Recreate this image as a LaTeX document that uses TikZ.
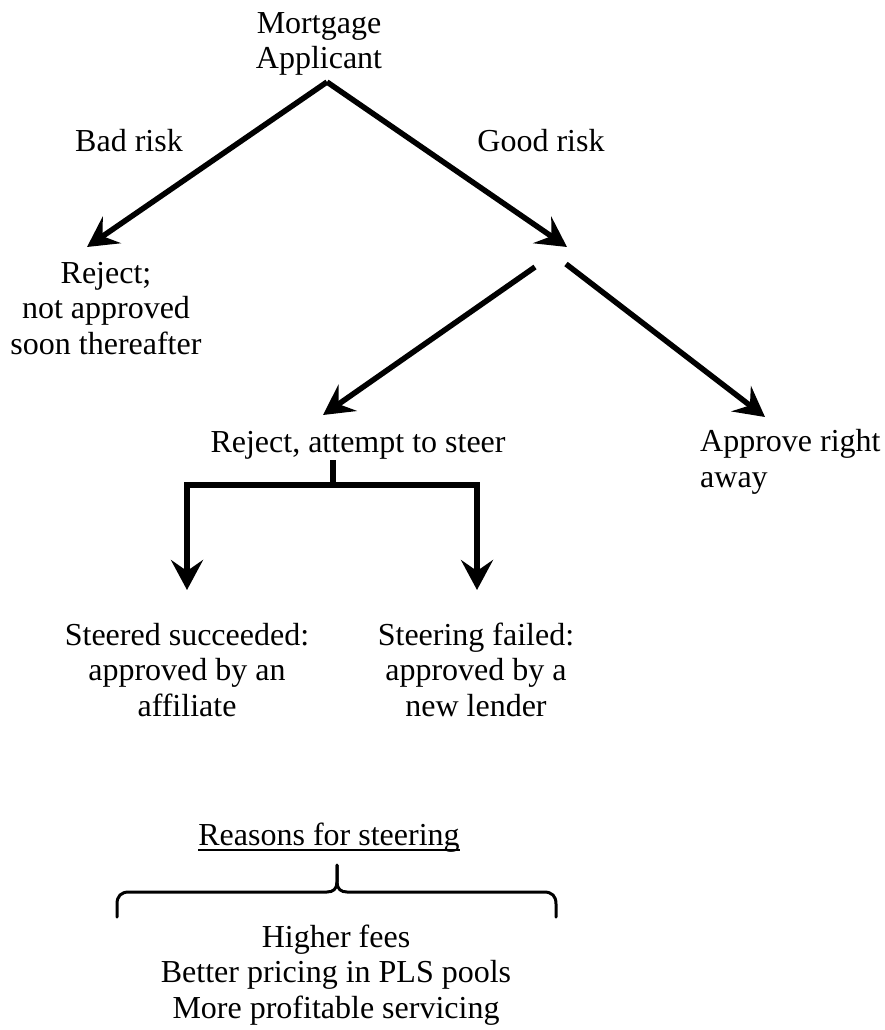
\documentclass[tikz,border=0pt]{standalone}
\usepackage{fontspec}
\setmainfont{Liberation Serif}
\usetikzlibrary{arrows.meta}
\begin{document}
\begin{tikzpicture}[x=1pt,y=-1pt,
  txt/.style={inner sep=0pt, anchor=base, align=center, font=\fontsize{32}{35.5}\selectfont},
  arr/.style={line width=5.5pt, -{Stealth[length=30pt,width=32pt,inset=11pt]}},
  ln/.style={line width=5.5pt},
  bracestyle/.style={line width=3pt, line cap=round, line join=round}]
\useasboundingbox (0,0) rectangle (885,1030);
% texts (anchor base = baseline of the last line)
\node[txt] (app) at (319,69) {Mortgage\\Applicant};
\node[txt] (bad) at (129,151) {Bad risk};
\node[txt] (good) at (541,151) {Good risk};
\node[txt] (rej) at (106,354) {Reject;\\not approved\\soon thereafter};
\node[txt] (steer) at (358,452) {Reject, attempt to steer};
\node[txt, align=left, anchor=base west] (appr) at (700,487) {Approve right\\away};
\node[txt] (succ) at (187,716) {Steered succeeded:\\approved by an\\affiliate};
\node[txt] (fail) at (476,716) {Steering failed:\\approved by a\\new lender};
\node[txt] (reasons) at (329,845) {Reasons for steering};
\node[txt] (list) at (336,1018) {Higher fees\\Better pricing in PLS pools\\More profitable servicing};
% coordinates
\coordinate (split1) at (327,82);
\coordinate (badTip) at (87,247);
\coordinate (goodTip) at (567,247);
\coordinate (gl) at (535,267);
\coordinate (gr) at (566,264);
\coordinate (steerTip) at (323,415);
\coordinate (apprTip) at (765,417);
\coordinate (stTop) at (333,460);
\coordinate (stMid) at (333,485);
\coordinate (bl) at (187,485);
\coordinate (br) at (477,485);
\coordinate (succTip) at (187,590);
\coordinate (failTip) at (477,590);
% connectors
\draw[arr] (split1) -- (badTip);
\draw[arr] (split1) -- (goodTip);
\draw[arr] (gl) -- (steerTip);
\draw[arr] (gr) -- (apprTip);
\draw[ln] (stTop) -- (stMid);
\draw[arr] (stMid) -- (bl) -- (succTip);
\draw[arr] (stMid) -- (br) -- (failTip);
% underline
\draw[line width=1.6pt] ([yshift=-5pt]reasons.base west) -- ([yshift=-5pt]reasons.base east);
% brace
\coordinate (bL) at (117,917);
\coordinate (bR) at (556,917);
\coordinate (bTip) at (337,865);
\draw[bracestyle] (bL) -- (117,904) .. controls (117,896) and (121,892) .. (129,892) -- (327,892) .. controls (333,892) and (337,889) .. (337,882) -- (bTip);
\draw[bracestyle] (bTip) -- (337,882) .. controls (337,889) and (341,892) .. (347,892) -- (544,892) .. controls (552,892) and (556,896) .. (556,904) -- (bR);
\end{tikzpicture}
\end{document}
